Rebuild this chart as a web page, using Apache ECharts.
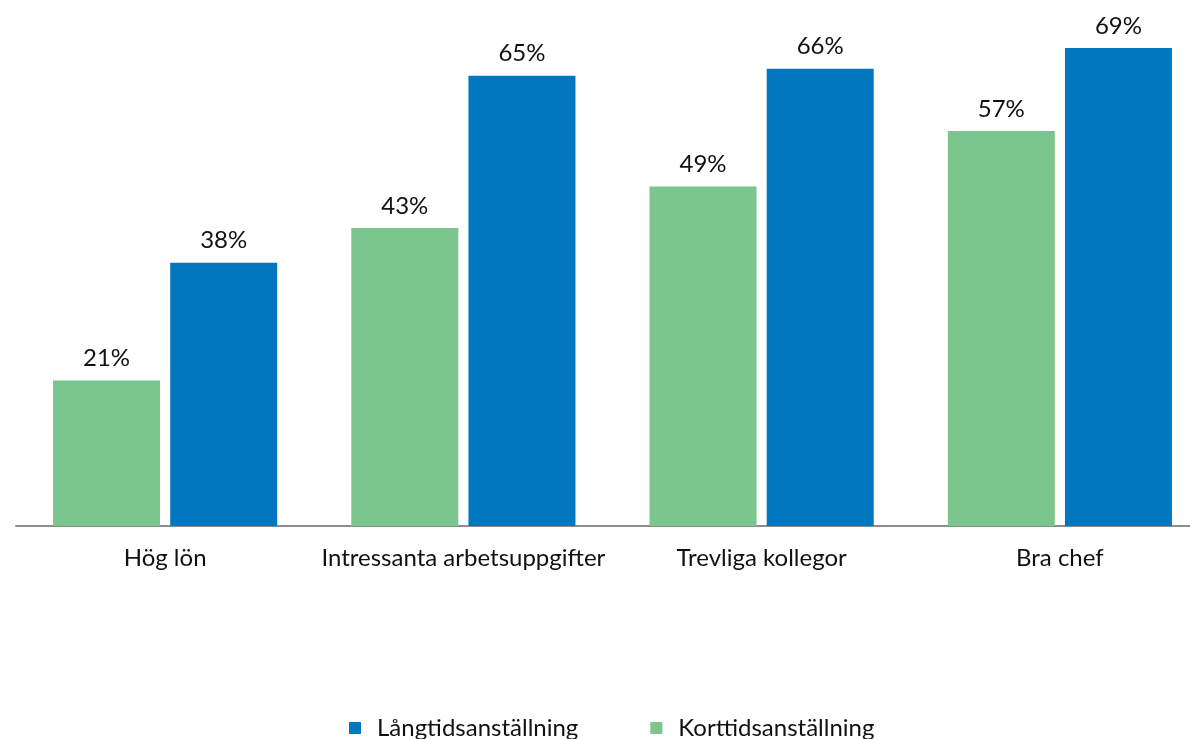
<!DOCTYPE html>
<html>
<head>
<meta charset="utf-8">
<script src="https://cdn.jsdelivr.net/npm/echarts@6/dist/echarts.min.js"></script>
<style>
  html, body { margin: 0; padding: 0; background: #fff; }
  #chart { width: 1190px; height: 739px; }
</style>
</head>
<body>
<div id="chart"></div>
<script>
// Data.
const categories = ['Hög lön', 'Intressanta arbetsuppgifter', 'Trevliga kollegor', 'Bra chef'];
const kortValues = [0.21, 0.43, 0.49, 0.57];
const langValues = [0.38, 0.65, 0.66, 0.69];
const legendOrder = ['Långtidsanställning', 'Korttidsanställning'];

const font = 'Lato, "Noto Sans", sans-serif';

const chart = echarts.init(document.getElementById('chart'));

const pctLabel = {
  show: true,
  position: 'top',
  distance: 10,
  fontFamily: font,
  fontSize: 24,
  color: '#111',
  formatter: (p) => Math.round(p.value * 100) + '%'
};

chart.setOption({
  animation: false,
  grid: { left: 16, top: 41, width: 1193, bottom: 213, outerBoundsMode: 'none' },
  legend: {
    data: legendOrder,
    left: 349,
    top: 716,
    padding: 0,
    icon: 'rect',
    itemWidth: 12,
    itemHeight: 12,
    itemGap: 72,
    textStyle: { fontFamily: font, fontSize: 24, color: '#111', padding: [0, 0, 0, 11] }
  },
  xAxis: {
    type: 'category',
    data: categories,
    axisLine: { lineStyle: { color: '#8c8c8c', width: 2 } },
    axisTick: { show: false },
    axisLabel: { interval: 0, fontFamily: font, fontSize: 24, color: '#111', margin: 20 }
  },
  yAxis: {
    type: 'value',
    min: 0,
    max: 0.7,
    show: false,
    splitLine: { show: false }
  },
  series: [
    {
      name: 'Korttidsanställning',
      type: 'bar',
      data: kortValues,
      barWidth: 107,
      barGap: '9.5%',
      itemStyle: { color: '#7bc58e' },
      label: pctLabel
    },
    {
      name: 'Långtidsanställning',
      type: 'bar',
      data: langValues,
      barWidth: 107,
      barGap: '9.5%',
      itemStyle: { color: '#0077be' },
      label: pctLabel
    }
  ]
});

window.addEventListener('resize', () => chart.resize());
</script>
</body>
</html>
